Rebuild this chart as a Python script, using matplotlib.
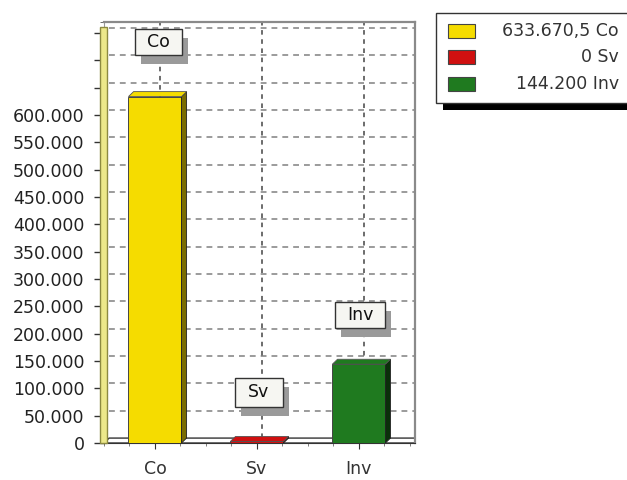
import matplotlib
matplotlib.use("Agg")
import matplotlib.pyplot as plt
from matplotlib.patches import Polygon, Rectangle
from matplotlib.ticker import FixedLocator, MultipleLocator

categories = ["Co", "Sv", "Inv"]
values = [633670.5, 0, 144200]
colors = ["#f5dc00", "#d01010", "#1f7a1f"]
side_colors = ["#7a6c00", "#6a0000", "#0a300a"]
legend_labels = ["633.670,5 Co", "0 Sv", "144.200 Inv"]
ytick_vals = list(range(0, 650000, 50000))
ytick_labels = ["0"] + [f"{v // 1000}.000" for v in ytick_vals[1:]]
label_pos = [(0.03, 733000), (1.02, 93000), (2.01, 234000)]

plt.rcParams['font.family'] = ['DejaVu Sans']
W, H = 627, 480
fig = plt.figure(figsize=(W / 100, H / 100), dpi=100)
ax = fig.add_axes([104 / W, 37 / H, 311 / W, 421 / H])
ymax = 770000
ax.set_xlim(-0.5, 2.55)
ax.set_ylim(0, ymax)

dx, dy = 0.05, 9000
# back-wall grid (shifted by depth)
for v in range(50000, ymax - 10000, 50000):
    ax.plot([-0.5 + dx, 2.55], [v + dy, v + dy], color="#8a8a8a", lw=1.2,
            ls=(0, (3.5, 3)), zorder=1)
for i in range(len(categories)):
    ax.plot([i + dx, i + dx], [dy, ymax], color="#444444", lw=1.1,
            ls=(0, (3, 3)), zorder=1)

# floor
ax.add_patch(Polygon([(-0.5, 0), (-0.5 + dx, dy), (2.55, dy), (2.55, 0)], closed=True,
                     facecolor="white", edgecolor="#333333", lw=1.0, zorder=2))

w = 0.52
for i, (v, c, sc) in enumerate(zip(values, colors, side_colors)):
    h = max(v, 3000)
    x0 = i - w / 2
    ax.add_patch(Rectangle((x0, 0), w, h, facecolor=c, edgecolor="#444444", lw=0.7, zorder=3))
    ax.add_patch(Polygon([(x0 + w, 0), (x0 + w + dx, dy), (x0 + w + dx, h + dy), (x0 + w, h)],
                         closed=True, facecolor=sc, edgecolor="#222222", lw=0.6, zorder=3))
    ax.add_patch(Polygon([(x0, h), (x0 + dx, h + dy), (x0 + w + dx, h + dy), (x0 + w, h)],
                         closed=True, facecolor=c, edgecolor="#555555", lw=0.6, zorder=3))

ax.yaxis.set_major_locator(FixedLocator(list(range(0, ymax, 50000))))
ax.set_yticklabels(ytick_labels + [""] * (len(range(0, ymax, 50000)) - len(ytick_labels)))
ax.yaxis.set_minor_locator(MultipleLocator(10000))
ax.tick_params(axis="y", which="major", length=7, width=1.0, labelsize=12.5,
               color="#333333", labelcolor="#222222", pad=7)
ax.tick_params(axis="y", which="minor", length=3, color="#555555")
ax.set_xticks(range(len(categories)))
ax.set_xticklabels(categories)
ax.xaxis.set_minor_locator(FixedLocator([-0.5, -0.25, 0.25, 0.5, 0.75, 1.25, 1.5, 1.75, 2.25, 2.5]))
ax.tick_params(axis="x", which="major", length=4, labelsize=12.5, color="#333333",
               labelcolor="#333333", pad=8)
ax.tick_params(axis="x", which="minor", length=2.5, color="#666666")
for s in ["top", "right"]:
    ax.spines[s].set_color("#8a8a8a")
    ax.spines[s].set_linewidth(1.6)
ax.spines["left"].set_color("#999999")
ax.spines["bottom"].set_color("#333333")

# left wall stripe
fig.patches.append(Rectangle((100 / W, 37 / H), 7 / W, 416 / H, transform=fig.transFigure,
                             facecolor="#ece88a", edgecolor="#8c8a40", lw=1.0))

# data labels with shadow boxes (pixel-sized)
fig.canvas.draw()
box_sizes = [(47, 26), (48, 29), (50, 26)]
for (x, y), lab, (bw, bh) in zip(label_pos, categories, box_sizes):
    px, py = ax.transData.transform((x, y))
    fig.patches.append(Rectangle((px - bw / 2 + 6, py - bh / 2 - 9), bw, bh, transform=None,
                                 facecolor="#9a9a9a", edgecolor="none", zorder=4))
    fig.patches.append(Rectangle((px - bw / 2, py - bh / 2), bw, bh, transform=None,
                                 facecolor="#f6f6f2", edgecolor="#333333", lw=1.0, zorder=5))
    fig.text(px / W, py / H, lab, fontsize=12.5, ha="center", va="center",
             color="#111111", zorder=6)

# legend
fig.patches.append(Rectangle((443 / W, (H - 110) / H), 190 / W, 8 / H, transform=fig.transFigure,
                             facecolor="black", edgecolor="none"))
fig.patches.append(Rectangle((436 / W, (H - 103) / H), 195 / W, 90 / H, transform=fig.transFigure,
                             facecolor="white", edgecolor="#333333", lw=1.0))
for k, (lab, c) in enumerate(zip(legend_labels, colors)):
    yc = (H - 31 - k * 26.5) / H
    fig.patches.append(Rectangle((448 / W, yc - 7 / H), 27 / W, 14 / H, transform=fig.transFigure,
                                 facecolor=c, edgecolor="#444444", lw=0.8))
    fig.text(619 / W, yc, lab, ha="right", va="center", fontsize=12.5, color="#333333")

fig.savefig("out.png", dpi=100, facecolor="white")
